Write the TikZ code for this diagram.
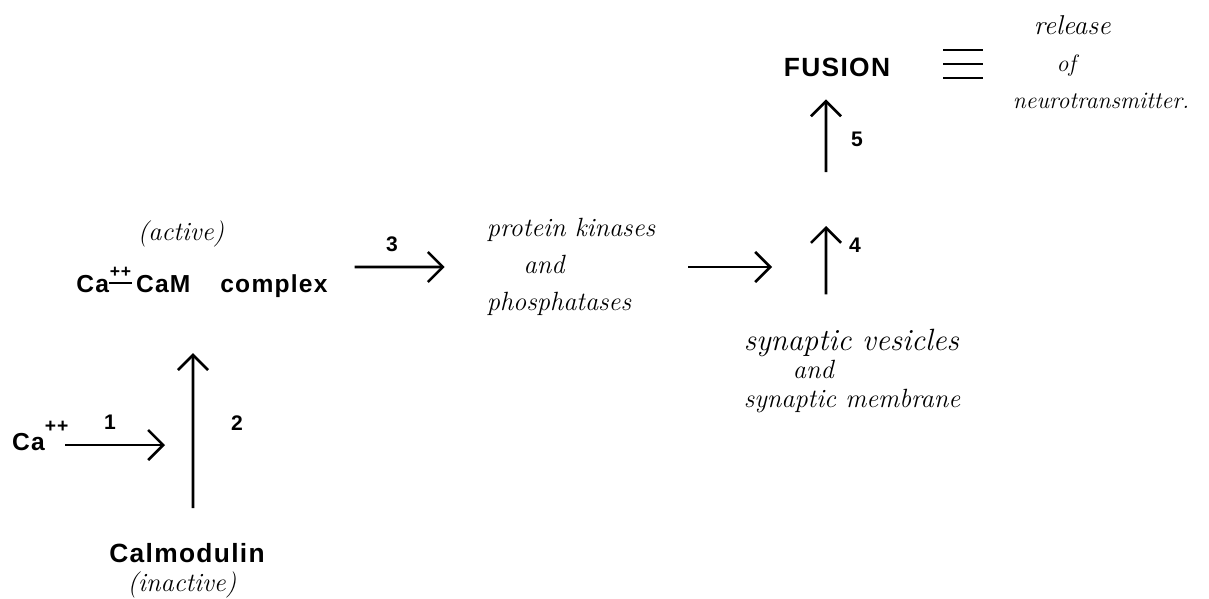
\documentclass[tikz,border=0pt]{standalone}
\usepackage{fontspec}
\setsansfont{Liberation Sans}[LetterSpace=5]
\usepackage{tikz}
\usetikzlibrary{arrows.meta, positioning}

\begin{document}
\begin{tikzpicture}[x=0.02cm, y=-0.02cm]
\tikzstyle{label} = [font=\sffamily\bfseries\fontsize{15}{18}\selectfont, inner sep=1pt]
\tikzstyle{hand} = [font=\itshape\fontsize{15}{21}\selectfont, align=left, inner sep=1pt]
\tikzstyle{num} = [font=\sffamily\bfseries\fontsize{12}{14}\selectfont, inner sep=1pt]
\tikzstyle{arrow} = [line width=1.5pt, -{Straight Barb[length=0.3cm, width=0.6cm]}]

\useasboundingbox (0,0) rectangle (1209,598);

% Left part
\node[hand] (active) at (181,234) {(active)};
\node[label, anchor=base, font=\sffamily\bfseries\fontsize{14}{16}\selectfont] (complex) at (202,292)
  {Ca\ooalign{\hfil\raisebox{1.1ex}{\fontsize{10}{10}\selectfont ++}\hfil\cr\hfil\rule[0.32em]{13pt}{1.1pt}\hfil\cr}\,CaM\hspace{17pt}complex};
\node[label, anchor=base west, font=\sffamily\bfseries\fontsize{14}{16}\selectfont] (ca) at (10,450)
  {Ca\raisebox{10pt}{\fontsize{11}{11}\selectfont ++}};
\node[label] (calm) at (187,553) {Calmodulin};
\node[hand] (inactive) at (182,585) {(inactive)};

% Middle and right part
\node[hand] (kinase) at (571,267) {protein kinases\\\hspace*{21pt}and\\phosphatases};
\node[hand, font=\itshape\fontsize{15}{16}\selectfont] (vesicles) at (852,371)
  {{\fontsize{17.5}{16}\selectfont synaptic vesicles}\\\hspace*{28pt}and\\synaptic membrane};
\node[label] (fusion) at (837,67) {FUSION};
\node[hand, font=\itshape\fontsize{13.5}{21}\selectfont] (release) at (1101,62)
  {\hspace*{12pt}{\fontsize{15.5}{21}\selectfont release}\\\hspace*{25pt}of\\neurotransmitter.};
\coordinate (c1) at (165,445);
\coordinate (c3) at (772,267);
\coordinate (mid4) at (826,226);
\coordinate (mid5) at (826,172);

% Arrows
\draw[arrow] ([xshift=-0.1cm]ca.east |- c1) -- (c1);
\draw[arrow] ([xshift=0.12cm, yshift=0.66cm]calm.north) -- ([xshift=-0.18cm, yshift=-1.08cm]complex.south);
\draw[arrow] ([xshift=0.5cm, yshift=0.5cm]complex.base east) -- ([xshift=-0.8cm]kinase.west);
\draw[arrow] ([xshift=0.62cm]kinase.east) -- (c3);
\draw[arrow] ([xshift=-0.52cm, yshift=0.66cm]vesicles.north) -- (mid4);
\draw[arrow] (mid5) -- ([xshift=-0.22cm, yshift=-0.42cm]fusion.south);
\foreach \y in {50,64,78}
  \draw[line width=1.6pt] (943,\y) -- (983,\y);

% Step numbers
\node[num] (n1) at (110,422) {1};
\node[num] (n2) at (237,423) {2};
\node[num] (n3) at (392,244) {3};
\node[num] (n4) at (855,245) {4};
\node[num] (n5) at (857,139) {5};
\end{tikzpicture}
\end{document}
